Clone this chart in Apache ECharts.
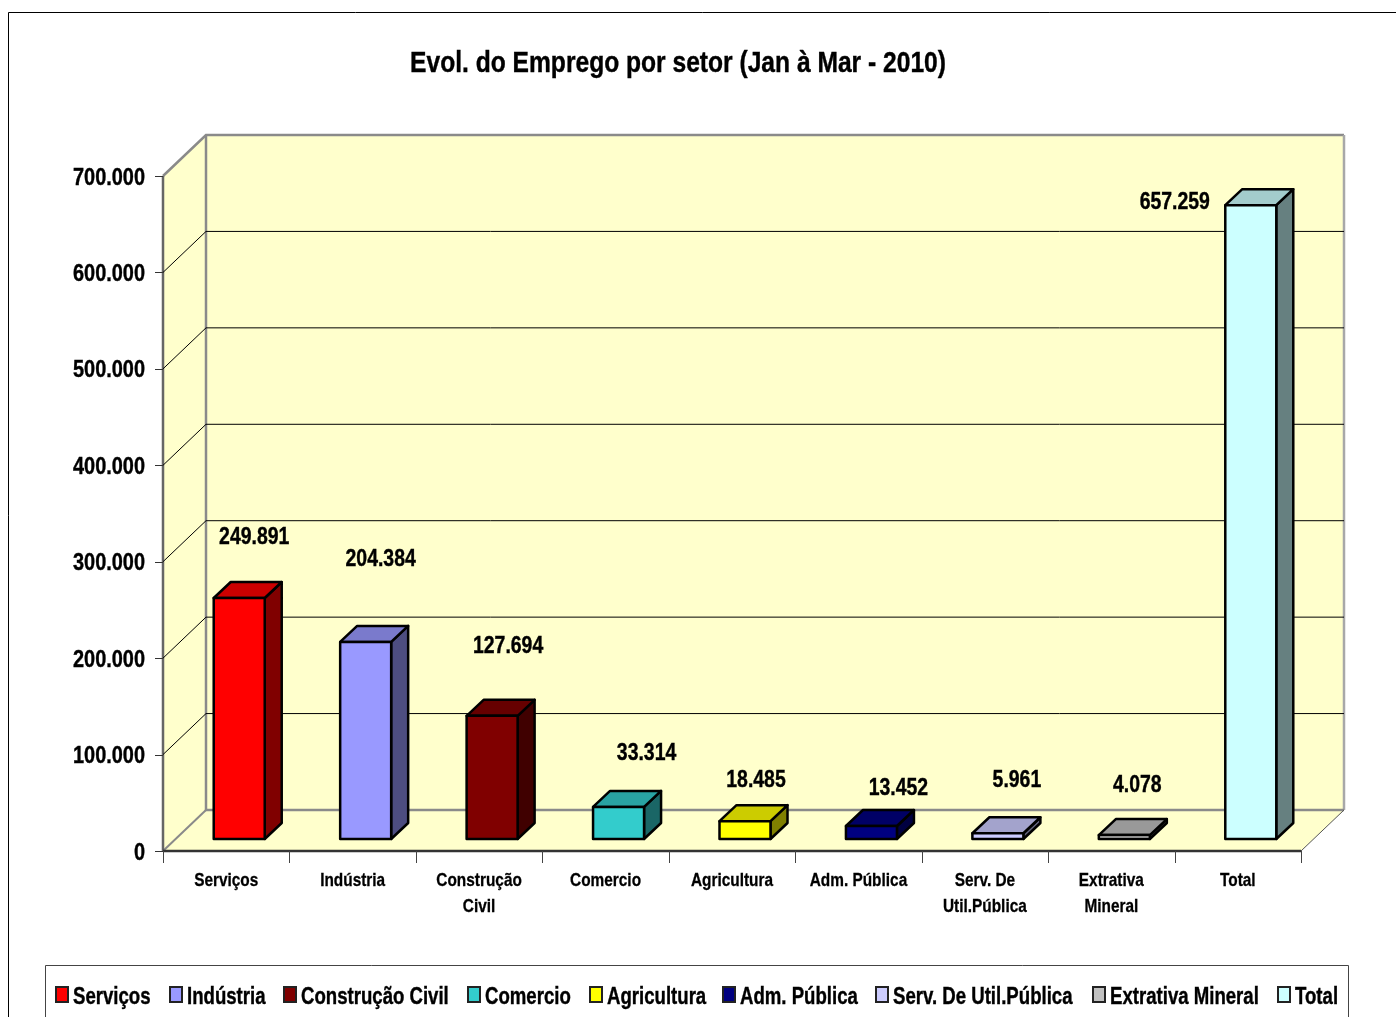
<!DOCTYPE html>
<html>
<head>
<meta charset="utf-8">
<style>
html, body { margin: 0; padding: 0; background: #fff; overflow: hidden; }
#main { width: 1396px; height: 1017px; }
</style>
<script src="https://cdn.jsdelivr.net/npm/echarts@6/dist/echarts.min.js"></script>
</head>
<body>
<div id="main"></div>
<script>
var categories = ['Serviços', 'Indústria', 'Construção\nCivil', 'Comercio', 'Agricultura', 'Adm. Pública', 'Serv. De\nUtil.Pública', 'Extrativa\nMineral', 'Total'];
var values = [249891, 204384, 127694, 33314, 18485, 13452, 5961, 4078, 657259];
var yTicks = [0, 100000, 200000, 300000, 400000, 500000, 600000, 700000];

// cores: frente, lado, topo
var frontColors = ['#FF0000', '#9999FF', '#800000', '#33CCCC', '#FFFF00', '#000080', '#CCCCFF', '#C0C0C0', '#CCFFFF'];
var sideColors = ['#800000', '#4D4D80', '#400000', '#1A6666', '#808000', '#000040', '#666680', '#606060', '#668080'];
var topColors = ['#CC0000', '#7A7ACC', '#660000', '#29A3A3', '#CCCC00', '#000066', '#A3A3CC', '#999999', '#A3CCCC'];
// posicao dos rotulos em relacao ao topo da barra
var labelOffsets = [[15, -61], [15, -83], [16, -69], [28, -54], [11, -41], [27, -38], [19, -53], [13, -50], [-76, -3]];
// x de cada item da legenda
var legendX = [56, 170, 284, 468, 590, 723, 876, 1093, 1278];

// fonte narrow nao existe aqui, entao o texto e comprimido com scaleX
var FONT = '"Liberation Sans", Arial, sans-serif';
var WALL_DX = 43, WALL_DY = -41;   // profundidade das paredes
var BAR_DX = 13, BAR_DY = -12;     // barra fica no meio do piso
var SIDE_DX = 17, SIDE_DY = -16;   // profundidade da barra
var BAR_W = 51;

function fmt(v) {
    return String(v).replace(/\B(?=(\d{3})+(?!\d))/g, '.');
}

function narrowText(text, x, y, size, scale, align, extra) {
    return {
        type: 'text',
        x: x,
        y: y,
        scaleX: scale,
        silent: true,
        z2: 50,
        style: Object.assign({
            text: text,
            x: 0,
            y: 0,
            align: align,
            verticalAlign: 'middle',
            fill: '#000',
            stroke: '#000',
            lineWidth: 0.4,
            font: 'bold ' + size + 'px ' + FONT
        }, extra || {})
    };
}

function line(points, color, width) {
    return {
        type: 'polyline',
        silent: true,
        shape: { points: points },
        style: { fill: 'none', stroke: color, lineWidth: width }
    };
}

// paredes, linhas de grade, eixos
function renderWall(params, api) {
    var cs = params.coordSys;
    var x0 = cs.x, x1 = cs.x + cs.width;
    var yTop = cs.y, yBottom = cs.y + cs.height;
    var v = api.value(0);
    var y = api.coord([0, v])[1];
    var children = [];
    var gray = '#8a8a8a';
    if (params.dataIndex === 0) {
        children.push({
            type: 'polygon',
            silent: true,
            shape: { points: [[x0 + WALL_DX, yTop + WALL_DY], [x1 + WALL_DX, yTop + WALL_DY], [x1 + WALL_DX, yBottom + WALL_DY], [x1, yBottom], [x0, yBottom], [x0, yTop]] },
            style: { fill: '#FFFFCC' }
        });
        children.push(line([[x0, yTop], [x0 + WALL_DX, yTop + WALL_DY], [x1 + WALL_DX, yTop + WALL_DY]], gray, 2.5));
        children.push(line([[x1 + WALL_DX, yTop + WALL_DY], [x1 + WALL_DX, yBottom + WALL_DY]], '#a8a8a8', 2.5));
        children.push(line([[x0 + WALL_DX, yTop + WALL_DY], [x0 + WALL_DX, yBottom + WALL_DY], [x1 + WALL_DX, yBottom + WALL_DY]], gray, 2.5));
        children.push(line([[x0, yBottom], [x0 + WALL_DX, yBottom + WALL_DY]], gray, 2));
        children.push(line([[x1, yBottom], [x1 + WALL_DX, yBottom + WALL_DY]], '#555', 1));
        // eixos
        children.push(line([[x0, yTop], [x0, yBottom]], '#666', 2.5));
        children.push(line([[x0, yBottom], [x1, yBottom]], '#333', 2.5));
        var band = api.size([1, 0])[0];
        categories.forEach(function (c, i) {
            var tx = Math.round(x0 + band * i) + 0.5;
            children.push(line([[tx, yBottom], [tx, yBottom + 12]], '#444', 1));
        });
        children.push(line([[x1 + 0.5, yBottom], [x1 + 0.5, yBottom + 12]], '#444', 1));
    } else if (y > yTop + 1) {
        children.push(line([[x0, y], [x0 + WALL_DX, y + WALL_DY], [x1 + WALL_DX, y + WALL_DY]], '#000', 1));
    }
    var ty = Math.round(y) + 0.5;
    children.push(line([[x0 - 8, ty], [x0, ty]], '#333', 1));
    children.push(narrowText(fmt(v), x0 - 18, y + 2, 24, 0.83, 'right'));
    return { type: 'group', children: children };
}

// barra 3D
function renderBar(params, api) {
    var i = api.value(0);
    var v = api.value(1);
    var top = api.coord([i, v]);
    var base = api.coord([i, 0]);
    var xl = top[0] + BAR_DX - BAR_W / 2, xr = xl + BAR_W;
    var yt = top[1] + BAR_DY, yb = base[1] + BAR_DY;
    var edge = { stroke: '#000', lineWidth: 2.5, lineJoin: 'round' };
    var off = labelOffsets[i];
    return {
        type: 'group',
        children: [
            { type: 'polygon', shape: { points: [[xr, yt], [xr + SIDE_DX, yt + SIDE_DY], [xr + SIDE_DX, yb + SIDE_DY], [xr, yb]] }, style: Object.assign({ fill: sideColors[i] }, edge) },
            { type: 'polygon', shape: { points: [[xl, yt], [xl + SIDE_DX, yt + SIDE_DY], [xr + SIDE_DX, yt + SIDE_DY], [xr, yt]] }, style: Object.assign({ fill: topColors[i] }, edge) },
            { type: 'polygon', shape: { points: [[xl, yt], [xr, yt], [xr, yb], [xl, yb]] }, style: Object.assign({ fill: frontColors[i] }, edge) },
            narrowText(fmt(v), xl + BAR_W / 2 + off[0], yt + off[1], 24, 0.81, 'center'),
            narrowText(categories[i], top[0], base[1] + 17, 19, 0.81, 'center', { verticalAlign: 'top', lineHeight: 26, lineWidth: 0.3 })
        ]
    };
}

var legendNames = categories.map(function (c) { return c.replace('\n', ' '); });

var seriesList = [{
    name: 'paredes',
    type: 'custom',
    coordinateSystem: 'cartesian2d',
    renderItem: renderWall,
    clip: false,
    silent: true,
    z: 1,
    encode: { y: 0 },
    data: yTicks.map(function (t) { return [t]; })
}];
legendNames.forEach(function (name, i) {
    seriesList.push({
        name: name,
        type: 'custom',
        coordinateSystem: 'cartesian2d',
        renderItem: renderBar,
        clip: false,
        z: 5,
        encode: { x: 0, y: 1 },
        data: [[i, values[i]]]
    });
});

// moldura, titulo e legenda
var graphics = [
    { type: 'rect', silent: true, shape: { x: 8.5, y: 12.5, width: 1500, height: 1100 }, style: { fill: 'none', stroke: '#000', lineWidth: 1 } },
    { type: 'rect', silent: true, shape: { x: 45.5, y: 965.5, width: 1303, height: 100 }, style: { fill: 'none', stroke: '#444', lineWidth: 1 } },
    narrowText('Evol. do Emprego por setor (Jan à Mar - 2010)', 678, 64, 30, 0.82, 'center')
];
legendNames.forEach(function (name, i) {
    graphics.push({
        type: 'rect',
        silent: true,
        shape: { x: legendX[i], y: 987, width: 12, height: 15 },
        style: { fill: frontColors[i], stroke: '#222', lineWidth: 2 }
    });
    graphics.push(narrowText(name, legendX[i] + 17, 997, 24, 0.775, 'left'));
});

var chart = echarts.init(document.getElementById('main'), null, { renderer: 'canvas' });
chart.setOption({
    animation: false,
    backgroundColor: '#fff',
    graphic: graphics,
    grid: { left: 163, top: 176, width: 1138, height: 675 },
    xAxis: {
        type: 'category',
        data: categories,
        axisLine: { show: false },
        axisTick: { show: false },
        axisLabel: { show: false }
    },
    yAxis: {
        type: 'value',
        min: 0,
        max: 700000,
        interval: 100000,
        splitLine: { show: false },
        axisLine: { show: false },
        axisTick: { show: false },
        axisLabel: { show: false }
    },
    series: seriesList
});
</script>
</body>
</html>
